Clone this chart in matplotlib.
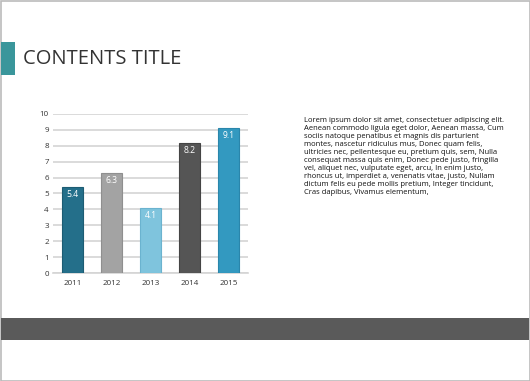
import matplotlib.pyplot as plt
from matplotlib.patches import Rectangle

years = ['2011', '2012', '2013', '2014', '2015']
values = [5.4, 6.3, 4.1, 8.2, 9.1]
colors = ['#246f8a', '#a3a3a3', '#7fc4dd', '#555555', '#3399c0']
edges = ['#1d5c73', '#8f8f8f', '#6bb3cf', '#444444', '#2a86ab']
yticks = list(range(0, 11))

title = 'CONTENTS TITLE'
body = ('Lorem ipsum dolor sit amet, consectetuer adipiscing elit.\n'
        'Aenean commodo ligula eget dolor, Aenean massa, Cum\n'
        'sociis natoque penatibus et magnis dis parturient\n'
        'montes, nascetur ridiculus mus, Donec quam felis,\n'
        'ultricies nec, pellentesque eu, pretium quis, sem, Nulla\n'
        'consequat massa quis enim, Donec pede justo, fringilla\n'
        'vel, aliquet nec, vulputate eget, arcu, In enim justo,\n'
        'rhoncus ut, imperdiet a, venenatis vitae, justo, Nullam\n'
        'dictum felis eu pede mollis pretium, Integer tincidunt,\n'
        'Cras dapibus, Vivamus elementum,')

W, H = 530, 381
fig = plt.figure(figsize=(W / 100, H / 100), dpi=100)
fig.patch.set_facecolor('white')

# slide decorations (pixel coords -> figure fraction)
def px_rect(x0, y0, x1, y1, **kw):
    fig.patches.append(Rectangle((x0 / W, 1 - y1 / H), (x1 - x0) / W, (y1 - y0) / H,
                                 transform=fig.transFigure, **kw))

px_rect(0.5, 0.5, W - 0.5, H - 0.5, facecolor='none', edgecolor='#bbbbbb', lw=1.2)
px_rect(1, 42, 15, 75, facecolor='#3a969b', edgecolor='none')
px_rect(1, 318, W - 1, 340, facecolor='#5a5a5a', edgecolor='none')

fig.text(23 / W, 1 - 58.5 / H, title, fontsize=14.5, color='#333333',
         family='Open Sans', va='center', ha='left')
fig.text(304 / W, 1 - 116.5 / H, body, fontsize=5.5, color='#111111',
         family='Open Sans', va='top', ha='left', linespacing=1.2)

# chart
ax = fig.add_axes([53 / W, 1 - 273 / H, 195 / W, 159 / H])
x = range(len(years))
bars = ax.bar(x, values, width=0.54, color=colors, edgecolor=edges, lw=0.8, zorder=3)
for b, v in zip(bars, values):
    ax.text(b.get_x() + b.get_width() / 2, v - 0.2, f'{v:.1f}', color='white',
            ha='center', va='top', fontsize=6.2, family='Open Sans', zorder=4)

ax.set_xlim(-0.5, len(years) - 0.5)
ax.set_ylim(0, 10)
ax.set_yticks(yticks)
ax.set_xticks(list(x))
ax.set_xticklabels(years)
ax.grid(axis='y', color='#d4d4d4', lw=1.2, zorder=0)
for s in ['top', 'right', 'left']:
    ax.spines[s].set_visible(False)
ax.spines['bottom'].set_color('#d4d4d4')
ax.spines['bottom'].set_linewidth(1.2)
ax.tick_params(axis='y', length=0, labelsize=5.8, colors='#333333', pad=3)
ax.tick_params(axis='x', length=0, labelsize=5.8, colors='#333333', pad=5)
for lbl in ax.get_xticklabels() + ax.get_yticklabels():
    lbl.set_family('Open Sans')

fig.savefig('out.png', dpi=100)
